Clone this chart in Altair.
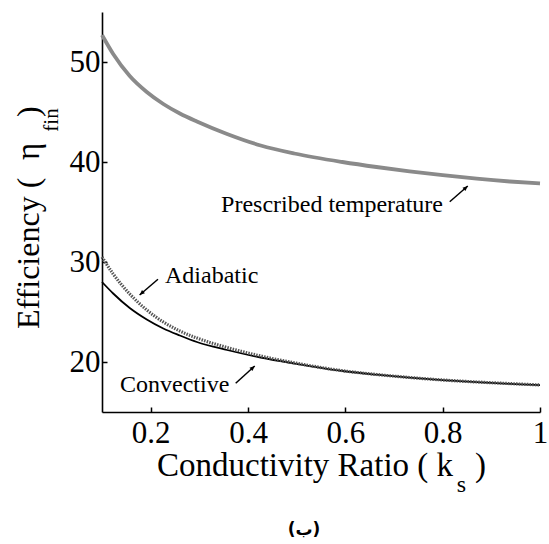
import altair as alt
import pandas as pd

# ---- data ----
k_ratio = [0.10, 0.123, 0.157, 0.192, 0.226, 0.26, 0.295, 0.357, 0.426, 0.495,
           0.594, 0.664, 0.732, 0.80, 0.87, 0.938, 1.00]
prescribed = [52.7, 50.8, 48.6, 47.0, 45.8, 44.85, 44.05, 42.8, 41.65, 40.85,
              40.0, 39.5, 39.07, 38.68, 38.33, 38.05, 37.85]
adiabatic = [30.5, 28.8, 26.8, 25.2, 24.0, 23.1, 22.4, 21.45, 20.6, 19.92,
             19.13, 18.75, 18.45, 18.2, 18.0, 17.84, 17.7]
convective = [28.0, 26.85, 25.4, 24.25, 23.35, 22.65, 22.0, 21.2, 20.45, 19.85,
              19.1, 18.73, 18.43, 18.18, 17.98, 17.82, 17.68]

x_ticks = [0.2, 0.4, 0.6, 0.8, 1.0]
y_ticks = [20, 30, 40, 50]

# annotation arrows (tail -> head, data coordinates) and head rotation
arrow_tail_x = [0.8145, 0.215, 0.3747]
arrow_tail_y = [36.03, 28.27, 17.87]
arrow_head_x = [0.8516, 0.1773, 0.4138]
arrow_head_y = [37.6, 26.7, 19.6]
arrow_angle = [49, 229, 48]

df = pd.DataFrame({"k": k_ratio, "P": prescribed, "A": adiabatic, "C": convective})
arrows = pd.DataFrame({"tx": arrow_tail_x, "ty": arrow_tail_y,
                       "hx": arrow_head_x, "hy": arrow_head_y, "ang": arrow_angle})
one = pd.DataFrame({"a": [0]})

W, H = 438, 400
SERIF = "Liberation Serif"

xs = alt.Scale(domain=[0.1, 1.0], nice=False, zero=False)
ys = alt.Scale(domain=[15, 55], nice=False, zero=False)

main_x_axis = alt.Axis(orient="bottom", values=x_ticks, format="~g", title=None,
                       ticks=False, tickSize=0, labelPadding=6, labelFont=SERIF,
                       labelFontSize=31, labelColor="black", labelFlush=False,
                       labelOverlap=False, domainColor="black", domainWidth=1.6, grid=False)
main_y_axis = alt.Axis(orient="left", values=y_ticks, title=None, ticks=False, tickSize=0,
                       labelPadding=2, labelFont=SERIF, labelFontSize=31, labelColor="black",
                       labelFlush=False, labelOverlap=False, domainColor="black",
                       domainWidth=1.6, grid=False)
tick_x_axis = alt.Axis(orient="top", offset=-H, values=x_ticks, title=None, labels=False,
                       domain=False, ticks=True, tickSize=5, tickWidth=1.5,
                       tickColor="black", grid=False)
tick_y_axis = alt.Axis(orient="right", offset=-W, values=y_ticks, title=None, labels=False,
                       domain=False, ticks=True, tickSize=5, tickWidth=1.5,
                       tickColor="black", grid=False)

base = alt.Chart(df)

prescribed_line = base.mark_line(color="#8a8a8a", strokeWidth=3.8, interpolate="monotone").encode(
    x=alt.X("k:Q", scale=xs, axis=main_x_axis),
    y=alt.Y("P:Q", scale=ys, axis=main_y_axis),
)
convective_line = base.mark_line(color="black", strokeWidth=1.8, interpolate="monotone").encode(
    x=alt.X("k:Q", scale=xs, axis=tick_x_axis),
    y=alt.Y("C:Q", scale=ys, axis=tick_y_axis),
)
adiabatic_line = base.mark_line(color="#555555", strokeWidth=3.2, strokeDash=[1.5, 1.2],
                                interpolate="monotone").encode(
    x=alt.X("k:Q", scale=xs, axis=None),
    y=alt.Y("A:Q", scale=ys, axis=None),
)

arrow_shafts = alt.Chart(arrows).mark_rule(color="black", strokeWidth=1.5).encode(
    x=alt.X("tx:Q", scale=xs, axis=None), y=alt.Y("ty:Q", scale=ys, axis=None),
    x2="hx:Q", y2="hy:Q",
)
arrow_heads = alt.Chart(arrows).mark_point(
    shape="M0,0L-0.7,1.6L0.7,1.6Z", filled=True, color="black", opacity=1, size=40
).encode(
    x=alt.X("hx:Q", scale=xs, axis=None), y=alt.Y("hy:Q", scale=ys, axis=None),
    angle=alt.Angle("ang:Q", scale=None),
)


def label(text, x, y, size, align="left", angle=0, font=SERIF, weight="normal", baseline="alphabetic"):
    props = dict(text=text, font=font, fontSize=size, align=align, baseline=baseline,
                 color="black", fontWeight=weight)
    if angle:
        props["angle"] = angle
    return alt.Chart(one).mark_text(**props).encode(x=alt.value(x), y=alt.value(y))


texts = [
    label("Prescribed temperature", 341, 199.7, 24, align="right"),
    label("Adiabatic", 63, 271, 24),
    label("Convective", 18, 379.7, 24),
    # x axis title with subscript
    label("Conductivity Ratio ( k", 55, 464, 33),
    label("s", 354.7, 480, 24),
    label(")", 373, 464, 33),
    # y axis title with subscript (rotated)
    label("Efficiency (", -63, 317, 32, angle=270),
    label("\u03b7", -63, 148, 33, angle=270),
    label("fin", -44, 119.7, 21, angle=270),
    label(")", -63, 105, 32, angle=270),
    # caption
    label("(\u0628)", 202, 523, 17, align="center", font="DejaVu Sans", weight="bold"),
]

chart = alt.layer(
    prescribed_line, convective_line, adiabatic_line, arrow_shafts, arrow_heads, *texts
).resolve_axis(x="independent", y="independent").resolve_scale(
    x="shared", y="shared"
).properties(
    width=W, height=H, autosize="none",
    padding={"left": 102, "top": 12, "right": 9, "bottom": 132},
    background="white",
).configure_view(stroke=None)

chart.save("out.html", embed_options={"renderer": "svg", "actions": False})
